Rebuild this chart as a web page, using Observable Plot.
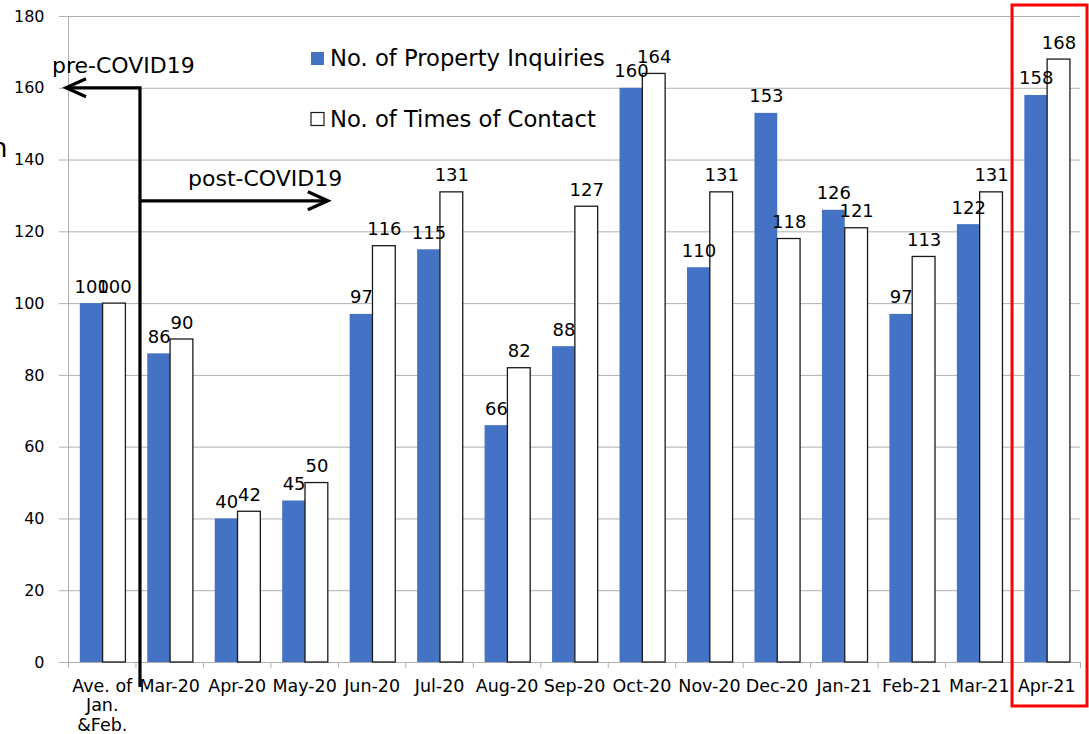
<!DOCTYPE html>
<html><head><meta charset="utf-8">
<script src="https://cdn.jsdelivr.net/npm/d3@7"></script>
<script src="https://cdn.jsdelivr.net/npm/@observablehq/plot@0.6"></script>
<style>
body{margin:0;background:#fff;}
#wrap{position:relative;width:1089px;height:734px;overflow:hidden;font-family:"DejaVu Sans",Verdana,sans-serif;}
#wrap svg{display:block;}
</style></head><body><div id="wrap"></div>
<script>
const categories = ["Ave. of\nJan.\n&Feb.", "Mar-20", "Apr-20", "May-20", "Jun-20", "Jul-20", "Aug-20", "Sep-20", "Oct-20", "Nov-20", "Dec-20", "Jan-21", "Feb-21", "Mar-21", "Apr-21"];
const inquiries = [100, 86, 40, 45, 97, 115, 66, 88, 160, 110, 153, 126, 97, 122, 158];
const contacts  = [100, 90, 42, 50, 116, 131, 82, 127, 164, 131, 118, 121, 113, 131, 168];
const seriesNames = ["No. of Property Inquiries", "No. of Times of Contact"];
const seriesColors = ["#4472C4", "#ffffff"];
const yTicks = [0, 20, 40, 60, 80, 100, 120, 140, 160, 180];
const annotations = ["pre-COVID19", "post-COVID19"];

const W = 1089, H = 734, ml = 68, mr = 9, mt = 16, mb = 72;
const step = (W - ml - mr) / categories.length;
const barW = 22.8, gapL = 11.8;
const grid = "#b0b0b0";
const data = categories.map((c, i) => ({cat: c, inq: inquiries[i], con: contacts[i]}));

const plot = Plot.plot({
  width: W, height: H,
  marginLeft: ml, marginRight: mr, marginTop: mt, marginBottom: mb,
  style: {fontFamily: "DejaVu Sans", fontSize: "16px", background: "white", color: "black", overflow: "visible"},
  x: {domain: categories, padding: 0, round: false},
  y: {domain: [0, 180]},
  marks: [
    Plot.gridY(yTicks, {stroke: grid, strokeOpacity: 1}),
    Plot.axisY(yTicks, {tickSize: 9, tickPadding: 15, stroke: grid, strokeOpacity: 1, fontSize: 16, label: null}),
    Plot.axisX({tickSize: 0, tickPadding: 16, fontSize: 17.5, lineHeight: 1.1, label: null}),
    Plot.ruleX(categories, {x: d => d, dx: -step / 2, y1: 0, y2: -1.7, stroke: grid}),
    Plot.ruleX([categories[categories.length - 1]], {x: d => d, dx: step / 2, y1: 0, y2: -1.7, stroke: grid}),
    Plot.ruleX([categories[0]], {x: d => d, dx: -step / 2, y1: -1.7, y2: 180, stroke: grid}),
    Plot.barY(data, {x: "cat", y: "inq", fill: seriesColors[0], insetLeft: gapL, insetRight: step - gapL - barW}),
    Plot.barY(data, {x: "cat", y: "con", fill: seriesColors[1], stroke: "#1a1a1a", strokeWidth: 1.3, insetLeft: gapL + barW, insetRight: step - gapL - 2 * barW}),
    Plot.text(data, {x: "cat", y: "inq", text: d => String(d.inq), dx: gapL + barW / 2 - step / 2, dy: -11, lineAnchor: "bottom", fontSize: 18, fill: "black"}),
    Plot.text(data, {x: "cat", y: "con", text: d => String(d.con), dx: gapL + 1.5 * barW - step / 2, dy: -11, lineAnchor: "bottom", fontSize: 18, fill: "black"})
  ]
});
document.getElementById("wrap").appendChild(plot);

// annotations drawn with the plot's own scales
const xs = plot.scale("x"), ys = plot.scale("y");
const svg = d3.select(plot);
const g = svg.append("g").attr("fill", "none").attr("stroke", "black").attr("stroke-width", 3.2);
const vx = xs.apply(categories[1]) + 4.5;
const yTop = ys.apply(160);
const yMid = ys.apply(128.5);
const leftTip = xs.apply(categories[0]) - 2;
const rightTip = xs.apply("Jun-20") - 10;
g.append("path").attr("d", `M${vx},${ys.apply(0) + 25}V${yTop}H${leftTip}`);
g.append("path").attr("d", `M${leftTip + 20},${yTop - 9}L${leftTip},${yTop}L${leftTip + 20},${yTop + 9}`);
g.append("path").attr("d", `M${vx},${yMid}H${rightTip}`);
g.append("path").attr("d", `M${rightTip - 20},${yMid - 9}L${rightTip},${yMid}L${rightTip - 20},${yMid + 9}`);
const tg = svg.append("g").attr("text-anchor", "start").attr("font-size", 22).attr("fill", "black");
tg.append("text").attr("x", 52).attr("y", yTop - 15).text(annotations[0]);
tg.append("text").attr("x", 188).attr("y", yMid - 14.5).text(annotations[1]);

// red highlight box around last category
const lastX = xs.apply(categories[categories.length - 1]);
svg.append("rect").attr("x", lastX - 0.5).attr("y", ys.apply(180) - 11)
  .attr("width", step + 7.5).attr("height", ys.apply(0) + 44 - (ys.apply(180) - 11))
  .attr("fill", "none").attr("stroke", "#ff0000").attr("stroke-width", 3);

// legend
const lg = svg.append("g").attr("font-size", 22.7).attr("text-anchor", "start");
seriesNames.forEach((name, i) => {
  const y0 = 52 + i * 60.5;
  lg.append("rect").attr("x", 311).attr("y", y0).attr("width", 13).attr("height", 13)
    .attr("fill", seriesColors[i]).attr("stroke", i === 1 ? "#1a1a1a" : "none").attr("stroke-width", 1.2);
  lg.append("text").attr("x", 330).attr("y", y0 + 14).attr("fill", "black").text(name);
});

// clipped fragment at left edge
tg.append("text").attr("x", -9).attr("y", 157).attr("font-size", 26).text("n");
</script></body></html>
